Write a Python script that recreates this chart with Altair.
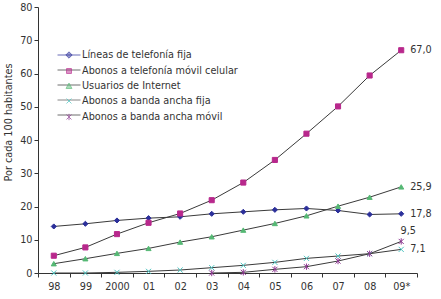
import altair as alt
import pandas as pd

# ---------------- data ----------------
years = ["98", "99", "2000", "01", "02", "03", "04", "05", "06", "07", "08", "09*"]
series = [
    "Líneas de telefonía fija",
    "Abonos a telefonía móvil celular",
    "Usuarios de Internet",
    "Abonos a banda ancha fija",
    "Abonos a banda ancha móvil",
]
fija = [14.0, 14.8, 15.8, 16.5, 16.9, 17.8, 18.4, 19.0, 19.4, 18.8, 17.6, 17.8]
movil = [5.2, 7.7, 11.7, 15.1, 17.9, 21.9, 27.2, 34.0, 41.9, 50.1, 59.4, 67.0]
internet = [2.8, 4.3, 5.9, 7.4, 9.3, 10.9, 12.9, 14.9, 17.2, 20.1, 22.8, 25.9]
banda_fija = [0.0, 0.0, 0.2, 0.5, 0.9, 1.6, 2.3, 3.2, 4.4, 5.1, 5.8, 7.1]
banda_movil = [None, None, None, None, None, 0.0, 0.2, 1.1, 1.9, 3.6, 5.8, 9.5]

values_by_series = [fija, movil, internet, banda_fija, banda_movil]

colors = ["#2B2F9A", "#B8288C", "#55B874", "#4CC3C0", "#8E3A92"]
legend_line_colors = ["#2B2F9A", "#333333", "#333333", "#555555", "#333333"]

rows = []
for s, vals in zip(series, values_by_series):
    for yr, v in zip(years, vals):
        if v is not None:
            rows.append({"year": yr, "series": s, "value": v})
df = pd.DataFrame(rows)

last = df[df["year"] == years[-1]].copy()
last["label"] = last["value"].map(lambda v: f"{v:.1f}".replace(".", ","))
last_main = last[last["series"] != series[4]]
last_top = last[last["series"] == series[4]]

# ---------------- styling ----------------
FONT = "DejaVu Sans"
TXT = "#333333"
X_PATH = "M-1,-1L1,1M-1,1L1,-1"
STAR_PATH = "M-1,-1L1,1M-1,1L1,-1M0,-1.25L0,1.25"
point_shapes = ["diamond", "square", "triangle-up", X_PATH, STAR_PATH]

LINE_PATH = "M-2.55,0L2.55,0"
legend_shapes = [
    "M0,-0.7L0.7,0L0,0.7L-0.7,0Z",
    "M-0.55,-0.55L0.55,-0.55L0.55,0.55L-0.55,0.55Z",
    "M0,-0.65L0.65,0.55L-0.65,0.55Z",
    "M-0.55,-0.55L0.55,0.55M-0.55,0.55L0.55,-0.55",
    "M-0.55,-0.55L0.55,0.55M-0.55,0.55L0.55,-0.55M0,-0.7L0,0.7",
]

x_enc = alt.X(
    "year:N",
    sort=years,
    scale=alt.Scale(domain=years, paddingInner=0, paddingOuter=0),
    axis=alt.Axis(
        title=None, tickBand="extent", tickSize=4, labelPadding=4,
        labelAngle=0, labelFont=FONT, labelFontSize=9.7, labelColor=TXT,
        domainColor="#333333", tickColor="#333333", grid=False,
    ),
)
y_enc = alt.Y(
    "value:Q",
    scale=alt.Scale(domain=[0, 80], nice=False, zero=True),
    axis=alt.Axis(
        title="Por cada 100 habitantes", values=list(range(0, 81, 10)),
        tickSize=4, labelPadding=2, labelFont=FONT, labelFontSize=9.7,
        labelColor=TXT, domainColor="#333333", tickColor="#333333",
        grid=False, titleFont=FONT, titleFontSize=9.7, titleFontWeight="normal",
        titleColor=TXT, titleX=-25, titleY=115,
    ),
)

base = alt.Chart(df)

lines = base.mark_line(color="#3a3a3a", strokeWidth=1).encode(
    x=x_enc, y=y_enc, detail="series:N"
)

pts = base.mark_point(filled=True, size=26, strokeWidth=1, opacity=1).encode(
    x=x_enc,
    y=y_enc,
    fill=alt.Fill("series:N", scale=alt.Scale(domain=series, range=colors), legend=None),
    stroke=alt.Stroke("series:N", scale=alt.Scale(domain=series, range=colors), legend=None),
    shape=alt.Shape("series:N", scale=alt.Scale(domain=series, range=point_shapes), legend=None),
)

common_leg = dict(
    orient="none", legendX=26, legendY=43, title=None, padding=0,
    labelFont=FONT, labelFontSize=9.7, labelColor=TXT, symbolSize=81,
    rowPadding=5, labelOffset=8, symbolStrokeWidth=1,
)

leg_line = base.mark_point(filled=False).encode(
    x=x_enc, y=y_enc,
    stroke=alt.Stroke(
        "series:N",
        scale=alt.Scale(domain=series, range=legend_line_colors),
        legend=alt.Legend(symbolType=LINE_PATH, labelExpr="''", **common_leg),
    ),
).transform_filter("false")

leg_marks_legend = alt.Legend(**common_leg)
leg_marks = base.mark_point(filled=True).encode(
    x=x_enc, y=y_enc,
    fill=alt.Fill("series:N", scale=alt.Scale(domain=series, range=colors), legend=leg_marks_legend),
    stroke=alt.Stroke("series:N", scale=alt.Scale(domain=series, range=colors), legend=leg_marks_legend),
    shape=alt.Shape("series:N", scale=alt.Scale(domain=series, range=legend_shapes), legend=leg_marks_legend),
).transform_filter("false")

labels_main = alt.Chart(last_main).mark_text(
    align="left", baseline="middle", dx=9, font=FONT, fontSize=9.7, color=TXT
).encode(x=x_enc, y=y_enc, text="label:N")

labels_top = alt.Chart(last_top).mark_text(
    align="center", baseline="middle", dx=7, dy=-10, font=FONT, fontSize=9.7, color=TXT
).encode(x=x_enc, y=y_enc, text="label:N")

chart = (
    alt.layer(lines, pts, leg_line, leg_marks, labels_main, labels_top)
    .resolve_scale(fill="independent", stroke="independent", shape="independent")
    .properties(
        width=379, height=266,
        autosize=alt.AutoSizeParams(type="none"),
        padding={"left": 38, "top": 7, "right": 24, "bottom": 26},
        background="white",
    )
    .configure_view(stroke=None)
)

chart.save("out.html", embed_options={"renderer": "svg", "actions": False})
